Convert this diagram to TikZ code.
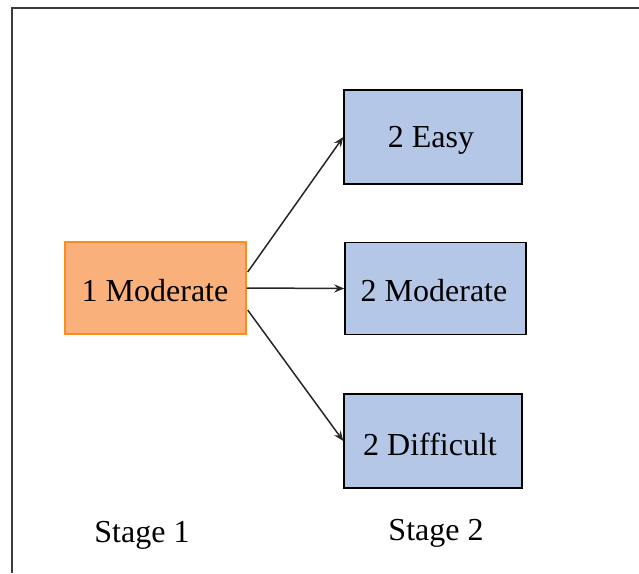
\documentclass[tikz,border=0pt]{standalone}
\usepackage{fontspec}
\setmainfont{Liberation Serif}
\usetikzlibrary{calc,arrows.meta}
\definecolor{orfill}{RGB}{250,176,122}
\definecolor{ordraw}{RGB}{252,140,30}
\definecolor{blfill}{RGB}{180,199,231}
\definecolor{framec}{RGB}{60,60,60}
\tikzset{
  txt/.style={font=\fontsize{32}{38}\selectfont, text=black},
  bluebox/.style={draw=black, fill=blfill, line width=1.4pt, minimum width=178pt, minimum height=94pt, inner sep=0pt},
  orangebox/.style={draw=ordraw, fill=orfill, line width=1.4pt, minimum width=181pt, minimum height=92pt, inner sep=0pt},
  conn/.style={draw=black!85, line width=1.5pt, -{Stealth[length=10pt,width=8pt]}},
}
\begin{document}
\begin{tikzpicture}[x=1pt,y=-1pt]
\useasboundingbox (0,0) rectangle (639,573);
\draw[framec, line width=2.2pt] (12,573) -- (12,8) -- (639,8);
\node[orangebox] (m1) at (155.5,288) {};
\node[bluebox] (e2) at (433,137) {};
\node[bluebox, minimum width=181pt, minimum height=92pt] (m2) at (435.5,288.5) {};
\node[bluebox] (d2) at (433,441) {};
\node[txt] (t1) at (155,291) {1 Moderate};
\node[txt] (t2) at (431,140) {2 Easy};
\node[txt] (t3) at (434,291) {2 Moderate};
\node[txt] (t4) at (430,444) {2 Difficult};
\node[txt] (s1) at (142,535) {Stage 1};
\node[txt] (s2) at (436,533) {Stage 2};
\draw[conn] ($(m1.east)+(1,-16)$) -- (e2.west);
\draw[conn] (m1.east) -- (m2.west);
\draw[conn] ($(m1.east)+(1,22)$) -- (d2.west);
\end{tikzpicture}
\end{document}
